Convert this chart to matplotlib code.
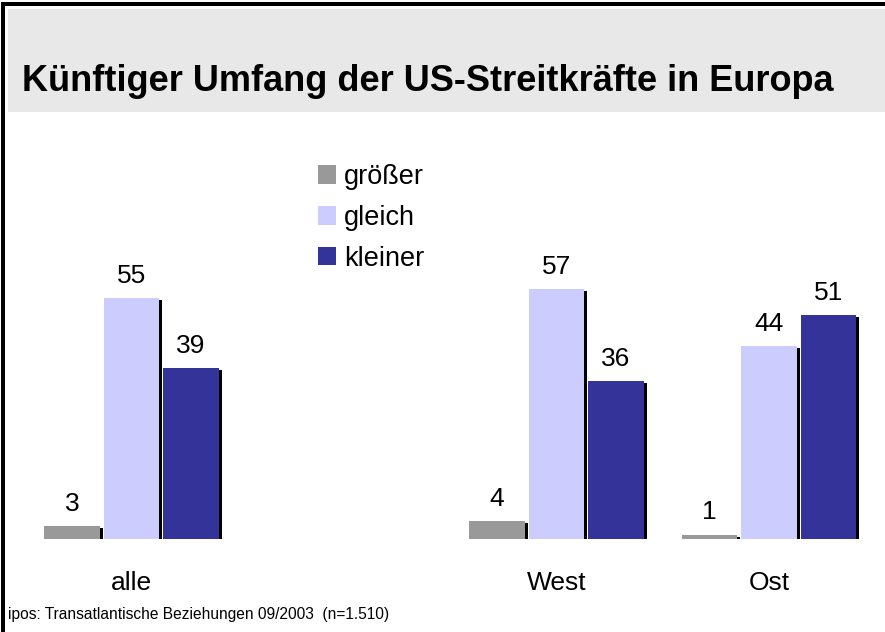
import numpy as np
import matplotlib
matplotlib.use('Agg')
import matplotlib.pyplot as plt
from matplotlib.patches import Rectangle
from matplotlib.transforms import ScaledTranslation

plt.rcParams['font.family'] = ['Liberation Sans', 'DejaVu Sans']

# data
groups = ['alle', 'West', 'Ost']
group_pos = [0, 2, 3]          # empty slot between alle and West
series = ['größer', 'gleich', 'kleiner']
groesser = [3, 4, 1]
gleich = [55, 57, 44]
kleiner = [39, 36, 51]
colors = ['#999999', '#CCCCFF', '#333399']
title = 'Künftiger Umfang der US-Streitkräfte in Europa'
source = 'ipos: Transatlantische Beziehungen 09/2003  (n=1.510)'

W, H = 885, 632
fig = plt.figure(figsize=(W / 100, H / 100), dpi=100)


def px(x, y, w, h):
    # pixel box (top-left origin) -> figure fraction
    return (x / W, 1 - (y + h) / H, w / W, h / H)


# frame and title band
for box, col in [(px(8, 9, 877, 103), '#E8E8E8'),
                 (px(1, 2, 4, 630), 'black'),
                 (px(1, 2, 884, 4), 'black')]:
    x0, y0, bw, bh = box
    fig.patches.append(Rectangle((x0, y0), bw, bh, transform=fig.transFigure,
                                 facecolor=col, edgecolor='none', zorder=0))

fig.text(22 / W, 1 - 91 / H, title, fontsize=26, fontweight='bold', va='baseline')
fig.text(8 / W, 1 - 619 / H, source, fontsize=11.2, va='baseline')

ax = fig.add_axes(px(0, 120, 885, 419))
unit = 212.5
ax.set_xlim(-131.5 / unit, (W - 131.5) / unit)
ax.set_ylim(0, 419 / 4.385)
ax.axis('off')

x = np.array(group_pos, dtype=float)
step, width = 0.28, 0.259
shadow = ax.transData + ScaledTranslation(3 / 100, -2 / 100, fig.dpi_scale_trans)

handles = []
for i, (vals, col, name) in enumerate(zip([groesser, gleich, kleiner], colors, series)):
    xs = x + (i - 1) * step
    ax.bar(xs, vals, width, color='black', transform=shadow, zorder=1)
    b = ax.bar(xs, vals, width, color=col, zorder=2, label=name)
    handles.append(b)
    for xi, v in zip(xs, vals):
        ax.annotate(str(v), (xi, v), xytext=(0, 11), textcoords='offset points',
                    ha='center', va='baseline', fontsize=19)

for xi, g in zip(x, groups):
    ax.annotate(g, (xi, 0), xytext=(0, -37), textcoords='offset points',
                ha='center', va='baseline', fontsize=19)

leg = fig.legend(handles=handles, loc='upper left', bbox_to_anchor=(318 / W, 1 - 164 / H),
                 frameon=False, fontsize=19.5, handlelength=0.66, handleheight=0.66,
                 handletextpad=0.3, labelspacing=0.55, borderpad=0, borderaxespad=0)

fig.savefig('out.png', dpi=100)
